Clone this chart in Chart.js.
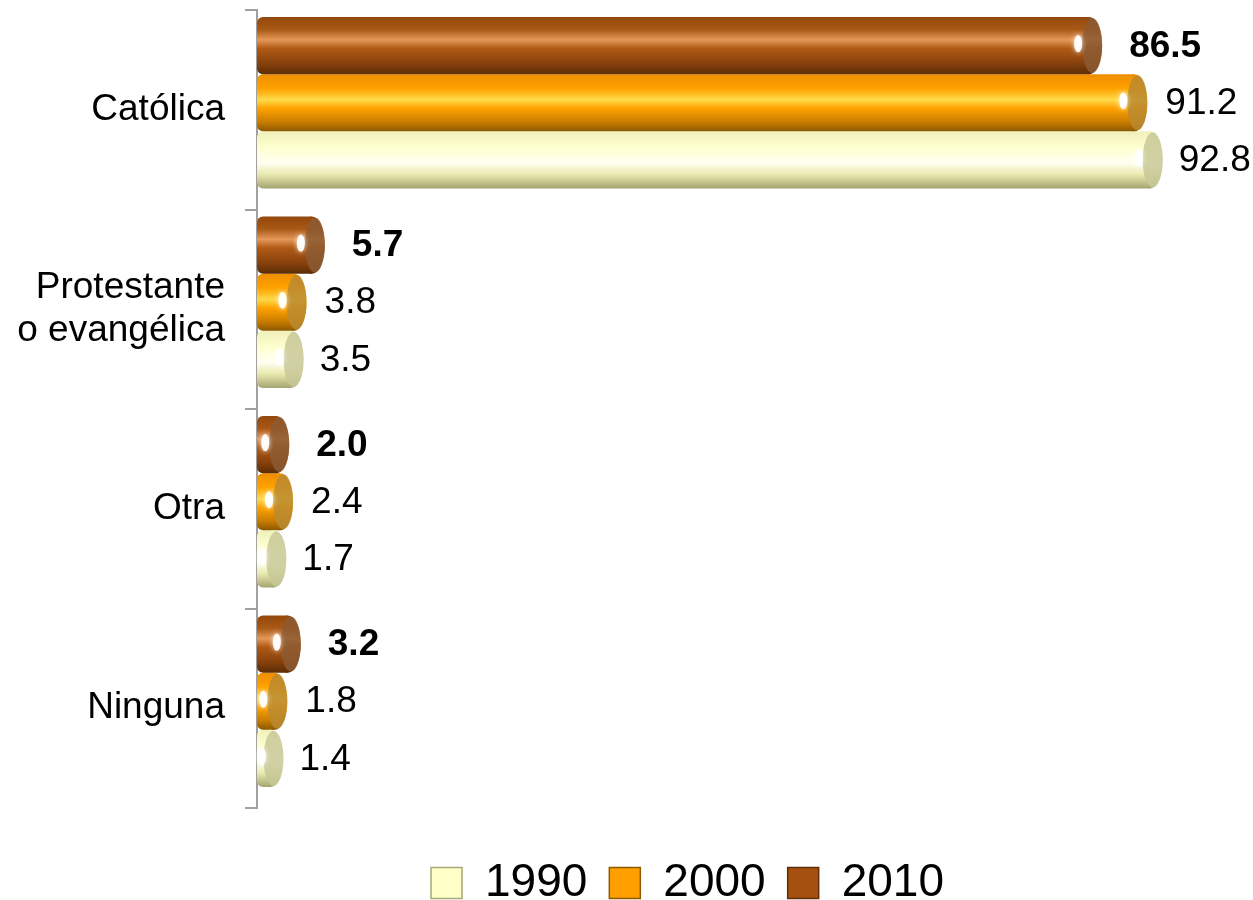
<!DOCTYPE html>
<html>
<head>
<meta charset="utf-8">
<script src="https://cdn.jsdelivr.net/npm/chart.js@4.4.1/dist/chart.umd.min.js"></script>
<style>
  html, body { margin: 0; padding: 0; background: #fff; }
  #wrap { width: 1253px; height: 900px; position: relative; }
</style>
</head>
<body>
<div id="wrap"><canvas id="religionChart"></canvas></div>
<script>
// --- data ---
const categories = ['Católica', ['Protestante', 'o evangélica'], 'Otra', 'Ninguna'];
const seriesNames = ['2010', '2000', '1990'];
const values2010 = [86.5, 5.7, 2.0, 3.2];
const values2000 = [91.2, 3.8, 2.4, 1.8];
const values1990 = [92.8, 3.5, 1.7, 1.4];
const axisMin = 0;
const axisMax = 100;

// Look of each series (cylinder shading)
const SERIES_STYLE = {
    '2010': {
        legend: '#A5500E', edge: '#5E2E08', face: '#8C5A32', bold: true, gap: 40,
        stops: [[0, '#94480C'], [0.22, '#A95816'], [0.4, '#E49858'], [0.55, '#B05A16'], [0.8, '#8A420C'], [1, '#5C2C06']]
    },
    '2000': {
        legend: '#FF9F00', edge: '#8E5A00', face: '#BA8A30', bold: false, gap: 31,
        stops: [[0, '#EE8E00'], [0.25, '#FFA200'], [0.45, '#FFD94A'], [0.6, '#FFA200'], [0.85, '#C57A00'], [1, '#8A5800']]
    },
    '1990': {
        legend: '#FFFFC8', edge: '#A8A878', face: '#C8C898', bold: false, gap: 29,
        stops: [[0, '#F0F0BA'], [0.3, '#FFFFD2'], [0.55, '#FFFFF2'], [0.75, '#EAEAB0'], [1, '#A4A470']]
    }
};

const FONT = '"Liberation Sans", Arial, sans-serif';
const BAR_LIFT = 7;       // the 3D bars sit a little above the middle of each band
const LEGEND_SHIFT = 78;  // legend is centred under the bars, not the whole page

function bodyGradient(ctx, el, style) {
    const top = el.y - el.height / 2;
    const g = ctx.createLinearGradient(0, top, 0, top + el.height);
    style.stops.forEach(s => g.addColorStop(s[0], s[1]));
    return g;
}

/**
 * Shades the bars like cylinders, adds the end cap, the glint and the value labels.
 */
const cylinderPlugin = {
    id: 'cylinder',
    afterLayout(chart) {
        if (chart.legend) {
            chart.legend.left += LEGEND_SHIFT;
            chart.legend.right += LEGEND_SHIFT;
        }
    },
    beforeDatasetsDraw(chart) {
        chart.ctx.save();
        chart.ctx.translate(0, -BAR_LIFT);
        chart.data.datasets.forEach((ds, i) => {
            const style = SERIES_STYLE[ds.label];
            chart.getDatasetMeta(i).data.forEach(el => {
                el.options = Object.assign({}, el.options, { backgroundColor: bodyGradient(chart.ctx, el, style) });
            });
        });
    },
    afterDatasetsDraw(chart) {
        const ctx = chart.ctx;
        chart.data.datasets.forEach((ds, i) => {
            const style = SERIES_STYLE[ds.label];
            chart.getDatasetMeta(i).data.forEach((el, j) => {
                const ry = el.height / 2;
                ctx.save();
                // rounded body end
                ctx.beginPath();
                ctx.ellipse(el.x, el.y, 13, ry, 0, 0, Math.PI * 2);
                ctx.fillStyle = bodyGradient(ctx, el, style);
                ctx.fill();
                // flat end face
                ctx.beginPath();
                ctx.ellipse(el.x + 3, el.y, 10, ry - 1, 0, 0, Math.PI * 2);
                ctx.fillStyle = style.face;
                ctx.globalAlpha = 0.85;
                ctx.fill();
                ctx.globalAlpha = 1;
                // glint
                const hx = Math.max(el.base + 5, el.x - 11);
                ctx.beginPath();
                ctx.ellipse(hx, el.y - 2, 4, el.height * 0.15, 0, 0, Math.PI * 2);
                ctx.fillStyle = 'rgba(255,255,255,0.95)';
                ctx.shadowColor = 'rgba(255,255,255,0.9)';
                ctx.shadowBlur = 5;
                ctx.fill();
                ctx.restore();

                // value label
                ctx.save();
                ctx.font = (style.bold ? 'bold ' : '') + '37px ' + FONT;
                ctx.fillStyle = '#000';
                ctx.textAlign = 'left';
                ctx.textBaseline = 'middle';
                ctx.fillText(ds.data[j].toFixed(1), el.x + style.gap, el.y + 1);
                ctx.restore();
            });
        });
        ctx.restore();
    }
};

const seriesValues = { '2010': values2010, '2000': values2000, '1990': values1990 };

const datasets = seriesNames.map(name => ({
    label: name,
    data: seriesValues[name],
    backgroundColor: SERIES_STYLE[name].legend,
    borderWidth: 0,
    borderSkipped: false,
    borderRadius: { topLeft: 6, bottomLeft: 6, topRight: 0, bottomRight: 0 },
    barPercentage: 1.0,
    categoryPercentage: 0.86
}));

const config = {
    type: 'bar',
    data: { labels: categories, datasets: datasets },
    plugins: [cylinderPlugin],
    options: {
        indexAxis: 'y',
        responsive: true,
        maintainAspectRatio: false,
        animation: false,
        layout: { padding: { top: 10, right: 34, left: 0, bottom: -16 } },
        scales: {
            x: {
                min: axisMin, max: axisMax,
                display: true,
                grid: { display: false },
                border: { display: false },
                ticks: { display: false },
                afterFit: axis => { axis.height = 30; }
            },
            y: {
                grid: {
                    display: true, drawOnChartArea: false, drawTicks: true,
                    tickLength: 12, color: '#A0A0A0', lineWidth: 2, offset: true
                },
                border: { display: true, color: '#A0A0A0', width: 2 },
                ticks: {
                    color: '#000', padding: 20,
                    font: { family: FONT, size: 37, lineHeight: 1.17 }
                },
                afterFit: axis => {
                    axis.width = 257;
                    axis.paddingTop = 0;
                    axis.paddingBottom = 0;
                }
            }
        },
        plugins: {
            tooltip: { enabled: false },
            legend: {
                position: 'bottom',
                reverse: true,
                labels: {
                    boxWidth: 31, boxHeight: 31, padding: 22, color: '#000',
                    font: { family: FONT, size: 46, lineHeight: 1 },
                    generateLabels(chart) {
                        const items = Chart.defaults.plugins.legend.labels.generateLabels(chart);
                        items.forEach(it => {
                            const style = SERIES_STYLE[chart.data.datasets[it.datasetIndex].label];
                            it.fillStyle = style.legend;
                            it.strokeStyle = style.edge;
                            it.lineWidth = 1.5;
                        });
                        return items;
                    }
                }
            }
        }
    }
};

new Chart(document.getElementById('religionChart').getContext('2d'), config);
</script>
</body>
</html>
